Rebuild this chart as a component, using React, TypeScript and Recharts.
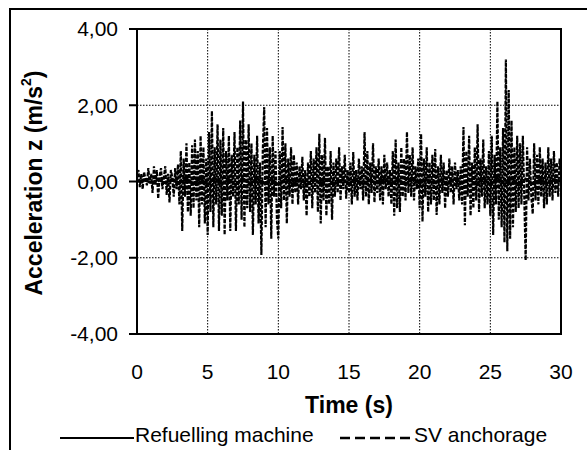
import { LineChart, Line, XAxis, YAxis, CartesianGrid, Legend, Label, ReferenceArea } from 'recharts'

// sampling interval of the two recorded signals (s)
const SV_STEP = 0.1
const REFUELLING_STEP = 0.5

const X_TICKS = [0, 5, 10, 15, 20, 25, 30]
const Y_TICKS = [-4, -2, 0, 2, 4]

// SV anchorage, one row per second (10 samples each)
const SV_ANCHORAGE = [
  0.10, 0.30, -0.15, 0.20, -0.20, 0.25, 0.05, -0.10, 0.35, -0.05,
  0.20, -0.30, 0.40, -0.10, 0.30, -0.45, 0.15, 0.35, -0.20, 0.10,
  0.40, -0.35, 0.20, -0.55, 0.30, 0.10, -0.40, 0.35, -0.20, 0.45,
  -0.60, 0.80, -1.30, 0.60, -0.40, 1.00, -0.80, 0.50, -0.90, 0.95,
  -0.70, 1.10, -0.50, 0.80, -1.20, 1.20, -0.60, 0.90, -1.10, 0.60,
  -1.40, 1.30, -0.80, 1.85, -1.20, 0.90, -0.60, 1.50, -1.30, 1.10,
  -0.90, 1.40, -1.40, 0.80, -0.50, 1.20, -1.30, 0.70, -0.40, 1.30,
  -1.30, 0.90, -0.60, 1.60, -1.00, 2.10, -1.20, 1.10, -0.70, 1.50,
  -0.80, 1.00, -1.40, 0.70, -0.60, 1.20, -1.10, 0.50, -1.93, 0.80,
  1.95, -1.20, 1.40, -0.60, 0.90, -1.50, 1.20, -0.40, 0.80, -1.00,
  -1.50, 0.80, -0.70, 1.43, -0.50, 1.00, -1.10, 0.60, -0.40, 0.90,
  -0.60, 0.70, -0.30, 0.50, -0.60, 0.40, -0.20, 0.65, -0.50, 0.30,
  -0.90, 0.50, -0.40, 0.80, -0.70, 0.60, -0.30, 0.90, -0.80, 1.25,
  -1.10, 0.70, -0.50, 1.15, -0.90, 0.40, -0.60, 0.80, -1.00, 0.50,
  -0.40, 0.60, -0.30, 0.90, -0.50, 0.40, -0.20, 0.70, -0.45, 0.30,
  -0.30, 0.50, -0.60, 0.77, -0.40, 0.30, -0.50, 0.60, -0.20, 0.40,
  -0.50, 1.30, -0.40, 0.80, -0.60, 0.50, -0.30, 1.00, -0.55, 0.40,
  -0.30, 0.60, -0.50, 0.40, -0.60, 0.70, -0.20, 0.50, -0.40, 0.30,
  -0.60, 0.80, -0.90, 1.10, -0.70, 0.50, -0.80, 0.90, -0.40, 0.60,
  -0.50, 1.30, -0.30, 0.70, -0.40, 0.90, -0.50, 0.40, -0.20, 0.60,
  -0.70, 1.25, -1.05, 0.60, -0.40, 0.90, -0.80, 0.50, -0.60, 0.70,
  -0.50, 0.85, -0.88, 0.40, -0.60, 0.70, -0.30, 0.50, -0.70, 0.30,
  -0.40, 0.60, -0.30, 0.40, -0.60, 0.50, -0.20, 0.30, -0.50, 0.40,
  -0.60, 1.43, -1.15, 0.80, -0.40, 1.20, -0.90, 0.50, -0.70, 0.90,
  -0.50, 1.50, -0.80, 0.60, -0.40, 1.10, -0.70, 0.40, -0.60, 0.80,
  -0.90, 1.20, -1.40, 0.70, -0.60, 2.10, -1.00, 0.90, -1.20, 1.40,
  -1.60, 3.20, -1.83, 2.40, -1.50, 1.60, -1.20, 0.90, -0.80, 1.20,
  -0.70, 1.00, -0.60, 1.20, -0.40, -2.07, 0.90, -0.50, 0.60, -0.40,
  -0.85, 1.00, -0.50, 0.70, -0.60, 0.90, -0.40, 0.60, -0.70, 0.50,
  -0.60, 0.90, -0.40, 0.60, -0.50, 0.80, -0.30, 0.50, -0.40, 0.60,
  0.20,
]

// Refuelling machine, stays close to zero
const REFUELLING_MACHINE = [
  0.00, 0.04, -0.03, 0.05, -0.04, 0.06, -0.05, 0.08, -0.06, 0.07,
  -0.08, 0.09, -0.07, 0.06, -0.09, 0.08, -0.06, 0.07, -0.05, 0.06,
  -0.08, 0.07, -0.06, 0.05, -0.07, 0.06, -0.05, 0.04, -0.06, 0.05,
  -0.04, 0.05, -0.06, 0.04, -0.05, 0.06, -0.04, 0.05, -0.06, 0.07,
  -0.05, 0.06, -0.04, 0.05, -0.06, 0.07, -0.05, 0.06, -0.07, 0.08,
  -0.09, 0.10, -0.08, 0.09, -0.10, 0.07, -0.06, 0.05, -0.04, 0.05,
  0.00,
]

const svData = SV_ANCHORAGE.map((v, i) => ({ t: +(i * SV_STEP).toFixed(2), v }))
const refuellingData = REFUELLING_MACHINE.map((v, i) => ({ t: i * REFUELLING_STEP, v }))

const FONT = '"Liberation Sans", Arial, sans-serif'

const fmt = (v: number) => v.toFixed(2).replace('.', ',')

function YTitle() {
  return (
    <text
      x={34}
      y={183}
      transform="rotate(-90 34 183)"
      textAnchor="middle"
      dominantBaseline="central"
      fontFamily={FONT}
      fontSize={23}
      fontWeight="bold"
      fill="#000"
    >
      Acceleration z (m/s<tspan baselineShift="super" fontSize={14}>2</tspan>)
    </text>
  )
}

function XTitle() {
  return (
    <text x={349} y={405} textAnchor="middle" dominantBaseline="central" fontFamily={FONT} fontSize={23} fontWeight="bold" fill="#000">
      Time (s)
    </text>
  )
}

function ChartLegend() {
  return (
    <div style={{ position: 'relative', width: 587, height: 28, fontFamily: FONT, fontSize: 21, color: '#000' }}>
      <svg style={{ position: 'absolute', left: 60, top: 15 }} width={74} height={4}>
        <line x1={0} y1={2} x2={74} y2={2} stroke="#000" strokeWidth={2} />
      </svg>
      <span style={{ position: 'absolute', left: 135, top: 0, lineHeight: '28px', whiteSpace: 'nowrap' }}>Refuelling machine</span>
      <svg style={{ position: 'absolute', left: 340, top: 15 }} width={72} height={4}>
        <line x1={0} y1={2} x2={72} y2={2} stroke="#000" strokeWidth={2.5} strokeDasharray="10 5" />
      </svg>
      <span style={{ position: 'absolute', left: 414, top: 0, lineHeight: '28px', whiteSpace: 'nowrap' }}>SV anchorage</span>
    </div>
  )
}

export default function App() {
  return (
    <div style={{ position: 'absolute', left: 0, top: 0, width: 587, height: 450, background: '#fff' }}>
      <div style={{ position: 'absolute', left: 9, top: 8, width: 600, height: 460, borderTop: '2px solid #000', borderLeft: '2px solid #000' }} />
      <LineChart width={587} height={450} margin={{ top: 29, right: 26, left: 0, bottom: 0 }}>
        <CartesianGrid stroke="#000" strokeDasharray="1.5 1.5" strokeWidth={1} />
        <XAxis
          type="number"
          dataKey="t"
          domain={[0, 30]}
          ticks={X_TICKS}
          allowDuplicatedCategory={false}
          height={116}
          tickSize={0}
          tickMargin={30}
          axisLine={{ stroke: '#000', strokeWidth: 2 }}
          tick={{ fill: '#000', fontSize: 21, fontFamily: FONT }}
        >
          <Label content={<XTitle />} />
        </XAxis>
        <YAxis
          type="number"
          domain={[-4, 4]}
          ticks={Y_TICKS}
          width={137}
          tickFormatter={fmt}
          tickSize={8}
          tickMargin={11}
          axisLine={{ stroke: '#000', strokeWidth: 2 }}
          tickLine={{ stroke: '#000', strokeWidth: 2 }}
          tick={{ fill: '#000', fontSize: 21, fontFamily: FONT }}
        >
          <Label content={<YTitle />} />
        </YAxis>
        <ReferenceArea x1={0} x2={30} y1={-4} y2={4} fill="none" stroke="#000" strokeWidth={2} />
        <Line
          data={refuellingData}
          dataKey="v"
          name="Refuelling machine"
          stroke="#000"
          strokeWidth={2.5}
          dot={false}
          isAnimationActive={false}
        />
        <Line
          data={svData}
          dataKey="v"
          name="SV anchorage"
          stroke="#000"
          strokeWidth={2.2}
          strokeDasharray="4 1.5"
          dot={false}
          isAnimationActive={false}
        />
        <Legend verticalAlign="middle" align="center" wrapperStyle={{ top: 421, left: 0, width: 587 }} content={<ChartLegend />} />
      </LineChart>
    </div>
  )
}
